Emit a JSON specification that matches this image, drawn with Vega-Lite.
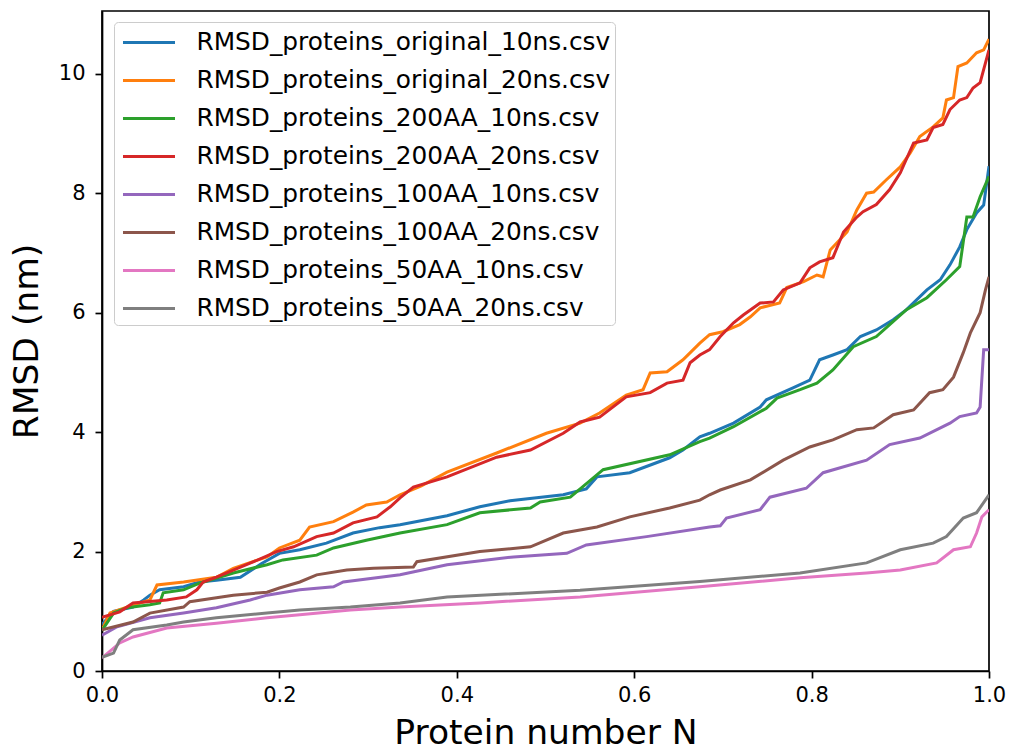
{
"$schema": "https://vega.github.io/schema/vega-lite/v6.json",
"width": 887, "height": 660,
"autosize": {"type": "none"},
"padding": {"left": 102, "top": 11, "right": 22, "bottom": 79},
"background": "white",
"config": {"font": "DejaVu Sans", "view": {"stroke": "black", "strokeWidth": 1.7}},
"datasets": {"pts": [
{"s":"RMSD_proteins_original_10ns.csv","x":0,"y":0.78},{"s":"RMSD_proteins_original_10ns.csv","x":0.013,"y":1.0},{"s":"RMSD_proteins_original_10ns.csv","x":0.035,"y":1.07},{"s":"RMSD_proteins_original_10ns.csv","x":0.047,"y":1.19},{"s":"RMSD_proteins_original_10ns.csv","x":0.054,"y":1.27},{"s":"RMSD_proteins_original_10ns.csv","x":0.065,"y":1.36},{"s":"RMSD_proteins_original_10ns.csv","x":0.092,"y":1.41},{"s":"RMSD_proteins_original_10ns.csv","x":0.11,"y":1.49},{"s":"RMSD_proteins_original_10ns.csv","x":0.129,"y":1.52},{"s":"RMSD_proteins_original_10ns.csv","x":0.156,"y":1.57},{"s":"RMSD_proteins_original_10ns.csv","x":0.18,"y":1.8},{"s":"RMSD_proteins_original_10ns.csv","x":0.2,"y":1.97},{"s":"RMSD_proteins_original_10ns.csv","x":0.223,"y":2.03},{"s":"RMSD_proteins_original_10ns.csv","x":0.253,"y":2.14},{"s":"RMSD_proteins_original_10ns.csv","x":0.283,"y":2.31},{"s":"RMSD_proteins_original_10ns.csv","x":0.313,"y":2.4},{"s":"RMSD_proteins_original_10ns.csv","x":0.336,"y":2.45},{"s":"RMSD_proteins_original_10ns.csv","x":0.389,"y":2.6},{"s":"RMSD_proteins_original_10ns.csv","x":0.426,"y":2.75},{"s":"RMSD_proteins_original_10ns.csv","x":0.46,"y":2.85},{"s":"RMSD_proteins_original_10ns.csv","x":0.52,"y":2.95},{"s":"RMSD_proteins_original_10ns.csv","x":0.546,"y":3.05},{"s":"RMSD_proteins_original_10ns.csv","x":0.558,"y":3.25},{"s":"RMSD_proteins_original_10ns.csv","x":0.595,"y":3.32},{"s":"RMSD_proteins_original_10ns.csv","x":0.64,"y":3.57},{"s":"RMSD_proteins_original_10ns.csv","x":0.655,"y":3.7},{"s":"RMSD_proteins_original_10ns.csv","x":0.674,"y":3.92},{"s":"RMSD_proteins_original_10ns.csv","x":0.685,"y":3.98},{"s":"RMSD_proteins_original_10ns.csv","x":0.712,"y":4.15},{"s":"RMSD_proteins_original_10ns.csv","x":0.742,"y":4.42},{"s":"RMSD_proteins_original_10ns.csv","x":0.749,"y":4.54},{"s":"RMSD_proteins_original_10ns.csv","x":0.779,"y":4.74},{"s":"RMSD_proteins_original_10ns.csv","x":0.798,"y":4.87},{"s":"RMSD_proteins_original_10ns.csv","x":0.809,"y":5.21},{"s":"RMSD_proteins_original_10ns.csv","x":0.824,"y":5.29},{"s":"RMSD_proteins_original_10ns.csv","x":0.84,"y":5.38},{"s":"RMSD_proteins_original_10ns.csv","x":0.855,"y":5.6},{"s":"RMSD_proteins_original_10ns.csv","x":0.873,"y":5.71},{"s":"RMSD_proteins_original_10ns.csv","x":0.892,"y":5.88},{"s":"RMSD_proteins_original_10ns.csv","x":0.907,"y":6.05},{"s":"RMSD_proteins_original_10ns.csv","x":0.93,"y":6.38},{"s":"RMSD_proteins_original_10ns.csv","x":0.945,"y":6.55},{"s":"RMSD_proteins_original_10ns.csv","x":0.956,"y":6.8},{"s":"RMSD_proteins_original_10ns.csv","x":0.967,"y":7.1},{"s":"RMSD_proteins_original_10ns.csv","x":0.975,"y":7.39},{"s":"RMSD_proteins_original_10ns.csv","x":0.986,"y":7.67},{"s":"RMSD_proteins_original_10ns.csv","x":0.994,"y":7.8},{"s":"RMSD_proteins_original_10ns.csv","x":1.0,"y":8.45},
{"s":"RMSD_proteins_original_20ns.csv","x":0,"y":0.69},{"s":"RMSD_proteins_original_20ns.csv","x":0.009,"y":0.97},{"s":"RMSD_proteins_original_20ns.csv","x":0.028,"y":1.07},{"s":"RMSD_proteins_original_20ns.csv","x":0.054,"y":1.19},{"s":"RMSD_proteins_original_20ns.csv","x":0.062,"y":1.44},{"s":"RMSD_proteins_original_20ns.csv","x":0.092,"y":1.49},{"s":"RMSD_proteins_original_20ns.csv","x":0.129,"y":1.57},{"s":"RMSD_proteins_original_20ns.csv","x":0.148,"y":1.72},{"s":"RMSD_proteins_original_20ns.csv","x":0.186,"y":1.91},{"s":"RMSD_proteins_original_20ns.csv","x":0.2,"y":2.06},{"s":"RMSD_proteins_original_20ns.csv","x":0.223,"y":2.19},{"s":"RMSD_proteins_original_20ns.csv","x":0.234,"y":2.41},{"s":"RMSD_proteins_original_20ns.csv","x":0.261,"y":2.5},{"s":"RMSD_proteins_original_20ns.csv","x":0.283,"y":2.66},{"s":"RMSD_proteins_original_20ns.csv","x":0.298,"y":2.78},{"s":"RMSD_proteins_original_20ns.csv","x":0.321,"y":2.83},{"s":"RMSD_proteins_original_20ns.csv","x":0.336,"y":2.95},{"s":"RMSD_proteins_original_20ns.csv","x":0.36,"y":3.1},{"s":"RMSD_proteins_original_20ns.csv","x":0.389,"y":3.33},{"s":"RMSD_proteins_original_20ns.csv","x":0.445,"y":3.65},{"s":"RMSD_proteins_original_20ns.csv","x":0.501,"y":3.98},{"s":"RMSD_proteins_original_20ns.csv","x":0.539,"y":4.15},{"s":"RMSD_proteins_original_20ns.csv","x":0.561,"y":4.32},{"s":"RMSD_proteins_original_20ns.csv","x":0.591,"y":4.62},{"s":"RMSD_proteins_original_20ns.csv","x":0.61,"y":4.71},{"s":"RMSD_proteins_original_20ns.csv","x":0.618,"y":4.99},{"s":"RMSD_proteins_original_20ns.csv","x":0.637,"y":5.01},{"s":"RMSD_proteins_original_20ns.csv","x":0.655,"y":5.21},{"s":"RMSD_proteins_original_20ns.csv","x":0.674,"y":5.49},{"s":"RMSD_proteins_original_20ns.csv","x":0.685,"y":5.63},{"s":"RMSD_proteins_original_20ns.csv","x":0.7,"y":5.68},{"s":"RMSD_proteins_original_20ns.csv","x":0.719,"y":5.8},{"s":"RMSD_proteins_original_20ns.csv","x":0.731,"y":5.93},{"s":"RMSD_proteins_original_20ns.csv","x":0.742,"y":6.08},{"s":"RMSD_proteins_original_20ns.csv","x":0.764,"y":6.16},{"s":"RMSD_proteins_original_20ns.csv","x":0.772,"y":6.42},{"s":"RMSD_proteins_original_20ns.csv","x":0.791,"y":6.52},{"s":"RMSD_proteins_original_20ns.csv","x":0.806,"y":6.63},{"s":"RMSD_proteins_original_20ns.csv","x":0.813,"y":6.6},{"s":"RMSD_proteins_original_20ns.csv","x":0.821,"y":7.05},{"s":"RMSD_proteins_original_20ns.csv","x":0.84,"y":7.35},{"s":"RMSD_proteins_original_20ns.csv","x":0.851,"y":7.72},{"s":"RMSD_proteins_original_20ns.csv","x":0.862,"y":8.0},{"s":"RMSD_proteins_original_20ns.csv","x":0.87,"y":8.02},{"s":"RMSD_proteins_original_20ns.csv","x":0.884,"y":8.22},{"s":"RMSD_proteins_original_20ns.csv","x":0.9,"y":8.44},{"s":"RMSD_proteins_original_20ns.csv","x":0.911,"y":8.67},{"s":"RMSD_proteins_original_20ns.csv","x":0.922,"y":8.95},{"s":"RMSD_proteins_original_20ns.csv","x":0.937,"y":9.11},{"s":"RMSD_proteins_original_20ns.csv","x":0.948,"y":9.26},{"s":"RMSD_proteins_original_20ns.csv","x":0.952,"y":9.56},{"s":"RMSD_proteins_original_20ns.csv","x":0.96,"y":9.6},{"s":"RMSD_proteins_original_20ns.csv","x":0.965,"y":10.12},{"s":"RMSD_proteins_original_20ns.csv","x":0.975,"y":10.18},{"s":"RMSD_proteins_original_20ns.csv","x":0.986,"y":10.35},{"s":"RMSD_proteins_original_20ns.csv","x":0.994,"y":10.4},{"s":"RMSD_proteins_original_20ns.csv","x":1.0,"y":10.58},
{"s":"RMSD_proteins_200AA_10ns.csv","x":0,"y":0.68},{"s":"RMSD_proteins_200AA_10ns.csv","x":0.013,"y":0.97},{"s":"RMSD_proteins_200AA_10ns.csv","x":0.028,"y":1.06},{"s":"RMSD_proteins_200AA_10ns.csv","x":0.054,"y":1.11},{"s":"RMSD_proteins_200AA_10ns.csv","x":0.065,"y":1.14},{"s":"RMSD_proteins_200AA_10ns.csv","x":0.069,"y":1.31},{"s":"RMSD_proteins_200AA_10ns.csv","x":0.092,"y":1.36},{"s":"RMSD_proteins_200AA_10ns.csv","x":0.11,"y":1.47},{"s":"RMSD_proteins_200AA_10ns.csv","x":0.148,"y":1.64},{"s":"RMSD_proteins_200AA_10ns.csv","x":0.186,"y":1.78},{"s":"RMSD_proteins_200AA_10ns.csv","x":0.204,"y":1.86},{"s":"RMSD_proteins_200AA_10ns.csv","x":0.242,"y":1.94},{"s":"RMSD_proteins_200AA_10ns.csv","x":0.261,"y":2.06},{"s":"RMSD_proteins_200AA_10ns.csv","x":0.298,"y":2.19},{"s":"RMSD_proteins_200AA_10ns.csv","x":0.336,"y":2.31},{"s":"RMSD_proteins_200AA_10ns.csv","x":0.389,"y":2.45},{"s":"RMSD_proteins_200AA_10ns.csv","x":0.426,"y":2.65},{"s":"RMSD_proteins_200AA_10ns.csv","x":0.483,"y":2.73},{"s":"RMSD_proteins_200AA_10ns.csv","x":0.494,"y":2.83},{"s":"RMSD_proteins_200AA_10ns.csv","x":0.528,"y":2.91},{"s":"RMSD_proteins_200AA_10ns.csv","x":0.565,"y":3.37},{"s":"RMSD_proteins_200AA_10ns.csv","x":0.64,"y":3.62},{"s":"RMSD_proteins_200AA_10ns.csv","x":0.674,"y":3.84},{"s":"RMSD_proteins_200AA_10ns.csv","x":0.685,"y":3.9},{"s":"RMSD_proteins_200AA_10ns.csv","x":0.712,"y":4.09},{"s":"RMSD_proteins_200AA_10ns.csv","x":0.749,"y":4.4},{"s":"RMSD_proteins_200AA_10ns.csv","x":0.761,"y":4.57},{"s":"RMSD_proteins_200AA_10ns.csv","x":0.787,"y":4.71},{"s":"RMSD_proteins_200AA_10ns.csv","x":0.806,"y":4.82},{"s":"RMSD_proteins_200AA_10ns.csv","x":0.824,"y":5.04},{"s":"RMSD_proteins_200AA_10ns.csv","x":0.847,"y":5.43},{"s":"RMSD_proteins_200AA_10ns.csv","x":0.873,"y":5.6},{"s":"RMSD_proteins_200AA_10ns.csv","x":0.888,"y":5.8},{"s":"RMSD_proteins_200AA_10ns.csv","x":0.907,"y":6.05},{"s":"RMSD_proteins_200AA_10ns.csv","x":0.93,"y":6.25},{"s":"RMSD_proteins_200AA_10ns.csv","x":0.952,"y":6.55},{"s":"RMSD_proteins_200AA_10ns.csv","x":0.967,"y":6.77},{"s":"RMSD_proteins_200AA_10ns.csv","x":0.975,"y":7.6},{"s":"RMSD_proteins_200AA_10ns.csv","x":0.982,"y":7.6},{"s":"RMSD_proteins_200AA_10ns.csv","x":0.99,"y":7.94},{"s":"RMSD_proteins_200AA_10ns.csv","x":1.0,"y":8.28},
{"s":"RMSD_proteins_200AA_20ns.csv","x":0,"y":0.9},{"s":"RMSD_proteins_200AA_20ns.csv","x":0.02,"y":0.99},{"s":"RMSD_proteins_200AA_20ns.csv","x":0.035,"y":1.14},{"s":"RMSD_proteins_200AA_20ns.csv","x":0.073,"y":1.19},{"s":"RMSD_proteins_200AA_20ns.csv","x":0.095,"y":1.24},{"s":"RMSD_proteins_200AA_20ns.csv","x":0.107,"y":1.36},{"s":"RMSD_proteins_200AA_20ns.csv","x":0.114,"y":1.49},{"s":"RMSD_proteins_200AA_20ns.csv","x":0.129,"y":1.57},{"s":"RMSD_proteins_200AA_20ns.csv","x":0.148,"y":1.69},{"s":"RMSD_proteins_200AA_20ns.csv","x":0.171,"y":1.83},{"s":"RMSD_proteins_200AA_20ns.csv","x":0.197,"y":2.0},{"s":"RMSD_proteins_200AA_20ns.csv","x":0.216,"y":2.08},{"s":"RMSD_proteins_200AA_20ns.csv","x":0.242,"y":2.25},{"s":"RMSD_proteins_200AA_20ns.csv","x":0.261,"y":2.31},{"s":"RMSD_proteins_200AA_20ns.csv","x":0.283,"y":2.48},{"s":"RMSD_proteins_200AA_20ns.csv","x":0.31,"y":2.58},{"s":"RMSD_proteins_200AA_20ns.csv","x":0.325,"y":2.75},{"s":"RMSD_proteins_200AA_20ns.csv","x":0.336,"y":2.9},{"s":"RMSD_proteins_200AA_20ns.csv","x":0.351,"y":3.08},{"s":"RMSD_proteins_200AA_20ns.csv","x":0.389,"y":3.25},{"s":"RMSD_proteins_200AA_20ns.csv","x":0.445,"y":3.58},{"s":"RMSD_proteins_200AA_20ns.csv","x":0.483,"y":3.7},{"s":"RMSD_proteins_200AA_20ns.csv","x":0.52,"y":3.98},{"s":"RMSD_proteins_200AA_20ns.csv","x":0.539,"y":4.17},{"s":"RMSD_proteins_200AA_20ns.csv","x":0.561,"y":4.25},{"s":"RMSD_proteins_200AA_20ns.csv","x":0.591,"y":4.59},{"s":"RMSD_proteins_200AA_20ns.csv","x":0.618,"y":4.66},{"s":"RMSD_proteins_200AA_20ns.csv","x":0.637,"y":4.82},{"s":"RMSD_proteins_200AA_20ns.csv","x":0.655,"y":4.87},{"s":"RMSD_proteins_200AA_20ns.csv","x":0.663,"y":5.16},{"s":"RMSD_proteins_200AA_20ns.csv","x":0.674,"y":5.29},{"s":"RMSD_proteins_200AA_20ns.csv","x":0.685,"y":5.38},{"s":"RMSD_proteins_200AA_20ns.csv","x":0.697,"y":5.6},{"s":"RMSD_proteins_200AA_20ns.csv","x":0.712,"y":5.83},{"s":"RMSD_proteins_200AA_20ns.csv","x":0.723,"y":5.96},{"s":"RMSD_proteins_200AA_20ns.csv","x":0.742,"y":6.16},{"s":"RMSD_proteins_200AA_20ns.csv","x":0.757,"y":6.18},{"s":"RMSD_proteins_200AA_20ns.csv","x":0.768,"y":6.38},{"s":"RMSD_proteins_200AA_20ns.csv","x":0.787,"y":6.5},{"s":"RMSD_proteins_200AA_20ns.csv","x":0.798,"y":6.75},{"s":"RMSD_proteins_200AA_20ns.csv","x":0.809,"y":6.85},{"s":"RMSD_proteins_200AA_20ns.csv","x":0.824,"y":6.92},{"s":"RMSD_proteins_200AA_20ns.csv","x":0.836,"y":7.35},{"s":"RMSD_proteins_200AA_20ns.csv","x":0.851,"y":7.6},{"s":"RMSD_proteins_200AA_20ns.csv","x":0.858,"y":7.69},{"s":"RMSD_proteins_200AA_20ns.csv","x":0.873,"y":7.81},{"s":"RMSD_proteins_200AA_20ns.csv","x":0.888,"y":8.06},{"s":"RMSD_proteins_200AA_20ns.csv","x":0.9,"y":8.34},{"s":"RMSD_proteins_200AA_20ns.csv","x":0.915,"y":8.84},{"s":"RMSD_proteins_200AA_20ns.csv","x":0.93,"y":8.89},{"s":"RMSD_proteins_200AA_20ns.csv","x":0.937,"y":9.1},{"s":"RMSD_proteins_200AA_20ns.csv","x":0.948,"y":9.15},{"s":"RMSD_proteins_200AA_20ns.csv","x":0.956,"y":9.4},{"s":"RMSD_proteins_200AA_20ns.csv","x":0.967,"y":9.56},{"s":"RMSD_proteins_200AA_20ns.csv","x":0.975,"y":9.6},{"s":"RMSD_proteins_200AA_20ns.csv","x":0.982,"y":9.76},{"s":"RMSD_proteins_200AA_20ns.csv","x":0.99,"y":9.85},{"s":"RMSD_proteins_200AA_20ns.csv","x":1.0,"y":10.4},
{"s":"RMSD_proteins_100AA_10ns.csv","x":0,"y":0.6},{"s":"RMSD_proteins_100AA_10ns.csv","x":0.017,"y":0.74},{"s":"RMSD_proteins_100AA_10ns.csv","x":0.054,"y":0.89},{"s":"RMSD_proteins_100AA_10ns.csv","x":0.092,"y":0.97},{"s":"RMSD_proteins_100AA_10ns.csv","x":0.129,"y":1.06},{"s":"RMSD_proteins_100AA_10ns.csv","x":0.167,"y":1.19},{"s":"RMSD_proteins_100AA_10ns.csv","x":0.186,"y":1.27},{"s":"RMSD_proteins_100AA_10ns.csv","x":0.223,"y":1.36},{"s":"RMSD_proteins_100AA_10ns.csv","x":0.261,"y":1.41},{"s":"RMSD_proteins_100AA_10ns.csv","x":0.272,"y":1.49},{"s":"RMSD_proteins_100AA_10ns.csv","x":0.336,"y":1.61},{"s":"RMSD_proteins_100AA_10ns.csv","x":0.389,"y":1.78},{"s":"RMSD_proteins_100AA_10ns.csv","x":0.464,"y":1.91},{"s":"RMSD_proteins_100AA_10ns.csv","x":0.524,"y":1.97},{"s":"RMSD_proteins_100AA_10ns.csv","x":0.546,"y":2.11},{"s":"RMSD_proteins_100AA_10ns.csv","x":0.614,"y":2.25},{"s":"RMSD_proteins_100AA_10ns.csv","x":0.685,"y":2.41},{"s":"RMSD_proteins_100AA_10ns.csv","x":0.697,"y":2.43},{"s":"RMSD_proteins_100AA_10ns.csv","x":0.704,"y":2.56},{"s":"RMSD_proteins_100AA_10ns.csv","x":0.742,"y":2.7},{"s":"RMSD_proteins_100AA_10ns.csv","x":0.753,"y":2.91},{"s":"RMSD_proteins_100AA_10ns.csv","x":0.794,"y":3.06},{"s":"RMSD_proteins_100AA_10ns.csv","x":0.813,"y":3.32},{"s":"RMSD_proteins_100AA_10ns.csv","x":0.862,"y":3.53},{"s":"RMSD_proteins_100AA_10ns.csv","x":0.888,"y":3.79},{"s":"RMSD_proteins_100AA_10ns.csv","x":0.922,"y":3.9},{"s":"RMSD_proteins_100AA_10ns.csv","x":0.956,"y":4.15},{"s":"RMSD_proteins_100AA_10ns.csv","x":0.967,"y":4.26},{"s":"RMSD_proteins_100AA_10ns.csv","x":0.986,"y":4.32},{"s":"RMSD_proteins_100AA_10ns.csv","x":0.99,"y":4.42},{"s":"RMSD_proteins_100AA_10ns.csv","x":0.994,"y":5.38},{"s":"RMSD_proteins_100AA_10ns.csv","x":1.0,"y":5.38},
{"s":"RMSD_proteins_100AA_20ns.csv","x":0,"y":0.69},{"s":"RMSD_proteins_100AA_20ns.csv","x":0.035,"y":0.82},{"s":"RMSD_proteins_100AA_20ns.csv","x":0.054,"y":0.97},{"s":"RMSD_proteins_100AA_20ns.csv","x":0.092,"y":1.07},{"s":"RMSD_proteins_100AA_20ns.csv","x":0.099,"y":1.16},{"s":"RMSD_proteins_100AA_20ns.csv","x":0.148,"y":1.27},{"s":"RMSD_proteins_100AA_20ns.csv","x":0.186,"y":1.32},{"s":"RMSD_proteins_100AA_20ns.csv","x":0.2,"y":1.39},{"s":"RMSD_proteins_100AA_20ns.csv","x":0.223,"y":1.49},{"s":"RMSD_proteins_100AA_20ns.csv","x":0.242,"y":1.61},{"s":"RMSD_proteins_100AA_20ns.csv","x":0.276,"y":1.69},{"s":"RMSD_proteins_100AA_20ns.csv","x":0.306,"y":1.72},{"s":"RMSD_proteins_100AA_20ns.csv","x":0.351,"y":1.74},{"s":"RMSD_proteins_100AA_20ns.csv","x":0.355,"y":1.83},{"s":"RMSD_proteins_100AA_20ns.csv","x":0.426,"y":2.0},{"s":"RMSD_proteins_100AA_20ns.csv","x":0.483,"y":2.08},{"s":"RMSD_proteins_100AA_20ns.csv","x":0.52,"y":2.31},{"s":"RMSD_proteins_100AA_20ns.csv","x":0.558,"y":2.41},{"s":"RMSD_proteins_100AA_20ns.csv","x":0.595,"y":2.58},{"s":"RMSD_proteins_100AA_20ns.csv","x":0.64,"y":2.73},{"s":"RMSD_proteins_100AA_20ns.csv","x":0.674,"y":2.86},{"s":"RMSD_proteins_100AA_20ns.csv","x":0.685,"y":2.95},{"s":"RMSD_proteins_100AA_20ns.csv","x":0.697,"y":3.03},{"s":"RMSD_proteins_100AA_20ns.csv","x":0.731,"y":3.2},{"s":"RMSD_proteins_100AA_20ns.csv","x":0.768,"y":3.53},{"s":"RMSD_proteins_100AA_20ns.csv","x":0.798,"y":3.75},{"s":"RMSD_proteins_100AA_20ns.csv","x":0.824,"y":3.87},{"s":"RMSD_proteins_100AA_20ns.csv","x":0.851,"y":4.04},{"s":"RMSD_proteins_100AA_20ns.csv","x":0.87,"y":4.07},{"s":"RMSD_proteins_100AA_20ns.csv","x":0.892,"y":4.29},{"s":"RMSD_proteins_100AA_20ns.csv","x":0.915,"y":4.37},{"s":"RMSD_proteins_100AA_20ns.csv","x":0.933,"y":4.66},{"s":"RMSD_proteins_100AA_20ns.csv","x":0.948,"y":4.71},{"s":"RMSD_proteins_100AA_20ns.csv","x":0.96,"y":4.92},{"s":"RMSD_proteins_100AA_20ns.csv","x":0.971,"y":5.33},{"s":"RMSD_proteins_100AA_20ns.csv","x":0.979,"y":5.66},{"s":"RMSD_proteins_100AA_20ns.csv","x":0.99,"y":6.0},{"s":"RMSD_proteins_100AA_20ns.csv","x":0.996,"y":6.38},{"s":"RMSD_proteins_100AA_20ns.csv","x":1.0,"y":6.6},
{"s":"RMSD_proteins_50AA_10ns.csv","x":0,"y":0.22},{"s":"RMSD_proteins_50AA_10ns.csv","x":0.02,"y":0.47},{"s":"RMSD_proteins_50AA_10ns.csv","x":0.035,"y":0.57},{"s":"RMSD_proteins_50AA_10ns.csv","x":0.073,"y":0.72},{"s":"RMSD_proteins_50AA_10ns.csv","x":0.129,"y":0.8},{"s":"RMSD_proteins_50AA_10ns.csv","x":0.186,"y":0.89},{"s":"RMSD_proteins_50AA_10ns.csv","x":0.223,"y":0.94},{"s":"RMSD_proteins_50AA_10ns.csv","x":0.28,"y":1.02},{"s":"RMSD_proteins_50AA_10ns.csv","x":0.336,"y":1.07},{"s":"RMSD_proteins_50AA_10ns.csv","x":0.426,"y":1.14},{"s":"RMSD_proteins_50AA_10ns.csv","x":0.539,"y":1.24},{"s":"RMSD_proteins_50AA_10ns.csv","x":0.674,"y":1.41},{"s":"RMSD_proteins_50AA_10ns.csv","x":0.787,"y":1.56},{"s":"RMSD_proteins_50AA_10ns.csv","x":0.862,"y":1.64},{"s":"RMSD_proteins_50AA_10ns.csv","x":0.9,"y":1.69},{"s":"RMSD_proteins_50AA_10ns.csv","x":0.941,"y":1.81},{"s":"RMSD_proteins_50AA_10ns.csv","x":0.96,"y":2.03},{"s":"RMSD_proteins_50AA_10ns.csv","x":0.979,"y":2.08},{"s":"RMSD_proteins_50AA_10ns.csv","x":0.986,"y":2.31},{"s":"RMSD_proteins_50AA_10ns.csv","x":0.992,"y":2.58},{"s":"RMSD_proteins_50AA_10ns.csv","x":1.0,"y":2.7},
{"s":"RMSD_proteins_50AA_20ns.csv","x":0,"y":0.23},{"s":"RMSD_proteins_50AA_20ns.csv","x":0.013,"y":0.3},{"s":"RMSD_proteins_50AA_20ns.csv","x":0.02,"y":0.52},{"s":"RMSD_proteins_50AA_20ns.csv","x":0.035,"y":0.69},{"s":"RMSD_proteins_50AA_20ns.csv","x":0.073,"y":0.77},{"s":"RMSD_proteins_50AA_20ns.csv","x":0.092,"y":0.82},{"s":"RMSD_proteins_50AA_20ns.csv","x":0.129,"y":0.89},{"s":"RMSD_proteins_50AA_20ns.csv","x":0.186,"y":0.97},{"s":"RMSD_proteins_50AA_20ns.csv","x":0.223,"y":1.02},{"s":"RMSD_proteins_50AA_20ns.csv","x":0.28,"y":1.07},{"s":"RMSD_proteins_50AA_20ns.csv","x":0.336,"y":1.14},{"s":"RMSD_proteins_50AA_20ns.csv","x":0.389,"y":1.24},{"s":"RMSD_proteins_50AA_20ns.csv","x":0.539,"y":1.35},{"s":"RMSD_proteins_50AA_20ns.csv","x":0.674,"y":1.5},{"s":"RMSD_proteins_50AA_20ns.csv","x":0.787,"y":1.64},{"s":"RMSD_proteins_50AA_20ns.csv","x":0.862,"y":1.81},{"s":"RMSD_proteins_50AA_20ns.csv","x":0.9,"y":2.03},{"s":"RMSD_proteins_50AA_20ns.csv","x":0.937,"y":2.14},{"s":"RMSD_proteins_50AA_20ns.csv","x":0.952,"y":2.25},{"s":"RMSD_proteins_50AA_20ns.csv","x":0.971,"y":2.56},{"s":"RMSD_proteins_50AA_20ns.csv","x":0.986,"y":2.65},{"s":"RMSD_proteins_50AA_20ns.csv","x":1.0,"y":2.95}
]},
"data": {"name": "pts"},
"mark": {"type": "line", "strokeWidth": 3, "clip": true},
"encoding": {
"x": {"field": "x", "type": "quantitative",
 "scale": {"domain": [0, 1], "nice": false, "zero": false},
 "axis": {"title": "Protein number N", "values": [0, 0.2, 0.4, 0.6, 0.8, 1.0], "format": ".1f", "grid": false, "labelFlush": false,
  "domainColor": "black", "domainWidth": 1.7, "tickColor": "black", "tickWidth": 1.7, "tickSize": 7,
  "labelFontSize": 21, "labelColor": "black", "labelPadding": 6,
  "titleFontSize": 34.5, "titleFontWeight": "normal", "titleColor": "black", "titlePadding": 11}},
"y": {"field": "y", "type": "quantitative",
 "scale": {"domain": [0, 11.05], "nice": false, "zero": false},
 "axis": {"title": "RMSD (nm)", "values": [0, 2, 4, 6, 8, 10], "format": "d", "grid": false, "labelFlush": false,
  "domainColor": "black", "domainWidth": 1.7, "tickColor": "black", "tickWidth": 1.7, "tickSize": 7,
  "labelFontSize": 21, "labelColor": "black", "labelPadding": 10,
  "titleFontSize": 34.5, "titleFontWeight": "normal", "titleColor": "black", "titlePadding": 14}},
"color": {"field": "s", "type": "nominal",
 "scale": {"domain": ["RMSD_proteins_original_10ns.csv", "RMSD_proteins_original_20ns.csv", "RMSD_proteins_200AA_10ns.csv", "RMSD_proteins_200AA_20ns.csv", "RMSD_proteins_100AA_10ns.csv", "RMSD_proteins_100AA_20ns.csv", "RMSD_proteins_50AA_10ns.csv", "RMSD_proteins_50AA_20ns.csv"],
  "range": ["#1f77b4", "#ff7f0e", "#2ca02c", "#d62728", "#9467bd", "#8c564b", "#e377c2", "#7f7f7f"]},
 "legend": {"title": null, "orient": "none", "legendX": 12, "legendY": 11,
  "symbolType": "M-0.767,0H2.7", "symbolSize": 900, "symbolStrokeWidth": 3,
  "labelFontSize": 24.8, "labelColor": "black", "labelOffset": 45.5, "labelLimit": 0,
  "rowPadding": 9, "padding": 4, "strokeColor": "#cccccc", "fillColor": "rgba(255,255,255,0.8)", "cornerRadius": 4}}
}
}
